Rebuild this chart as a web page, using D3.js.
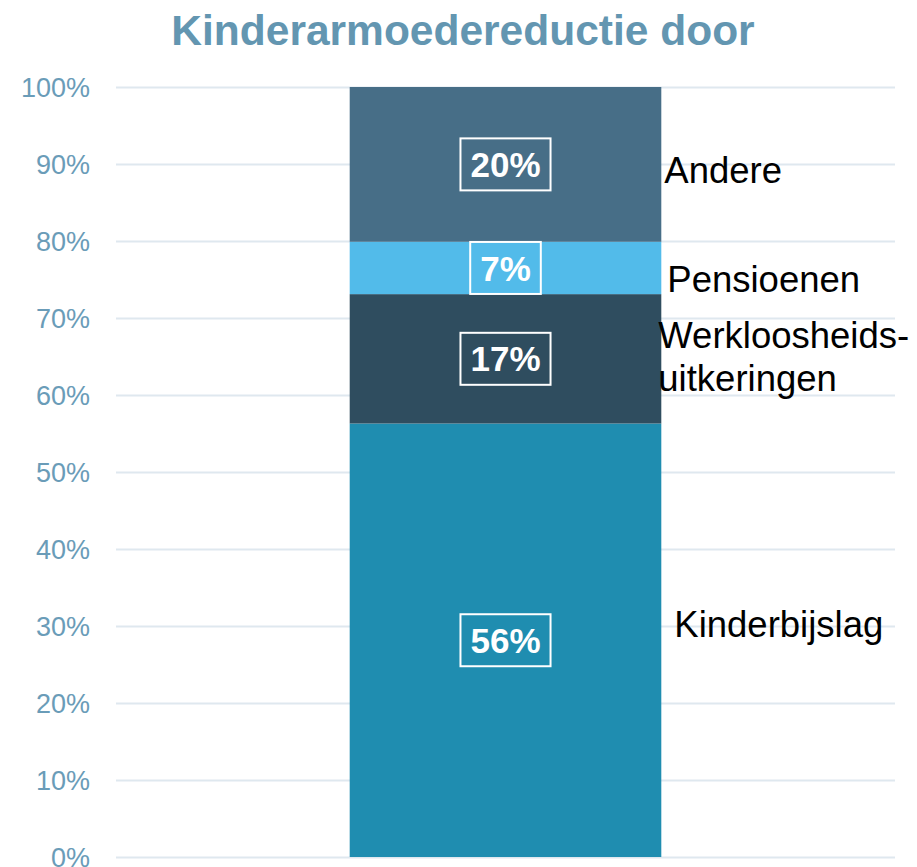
<!DOCTYPE html>
<html>
<head>
<meta charset="utf-8">
<style>
    body { margin: 0; background: #fff; }
    svg { display: block; font-family: Arial, "Liberation Sans", sans-serif; }
    .axis .domain { display: none; }
    .axis line { stroke: #dfe8ef; stroke-width: 2; }
    .axis text { fill: #6a9cb8; font-size: 27px; }
</style>
</head>
<body>
<svg width="917" height="867"></svg>
<script src="https://d3js.org/d3.v7.min.js"></script>
<script>

    // stacked shares, bottom to top
    var categories = ["Kinderbijslag", "Werkloosheids-uitkeringen", "Pensioenen", "Andere"];
    var labelLines = [["Kinderbijslag"], ["Werkloosheids-", "uitkeringen"], ["Pensioenen"], ["Andere"]];
    var values = [56.3, 16.8, 6.8, 20.1];
    var yTicks = [0, 10, 20, 30, 40, 50, 60, 70, 80, 90, 100];
    var title = "Kinderarmoedereductie door";

    var colors = ["#1f8db0", "#2f4d5f", "#52bbea", "#476e87"];
    // nudges for the side labels (x offset from bar, baseline offset from segment middle)
    var labelDx = [13, -3, 6, 3];
    var labelDy = [-3, -11, 24, 19];

    var svg = d3.select("svg"),
        margin = { top: 87, right: 22, bottom: 10, left: 116 },
        width = +svg.attr("width") - margin.left - margin.right,
        height = +svg.attr("height") - margin.top - margin.bottom;

    var x = d3.scaleBand()
        .domain(["all"])
        .range([0, width])
        .paddingOuter(0.75);

    var y = d3.scaleLinear()
        .domain([0, 100])
        .range([height, 0]);

    var g = svg.append("g")
        .attr("transform", "translate(" + margin.left + "," + margin.top + ")");

    g.append("g")
        .attr("class", "axis axis--y")
        .call(d3.axisLeft(y)
            .tickValues(yTicks)
            .tickSize(-width)
            .tickPadding(26)
            .tickFormat(function (d) { return d + "%"; }))
        .selectAll("text")
        .attr("dy", "0.35em");

    // stack the segments
    var stack = [];
    var acc = 0;
    values.forEach(function (v, i) {
        stack.push({ name: categories[i], lines: labelLines[i], value: v, y0: acc, y1: acc + v, i: i });
        acc += v;
    });

    g.selectAll("rect.seg")
        .data(stack)
        .enter()
        .append("rect")
        .attr("class", "seg")
        .attr("x", x("all"))
        .attr("width", x.bandwidth())
        .attr("y", function (d) { return y(d.y1); })
        .attr("height", function (d) { return y(d.y0) - y(d.y1); })
        .attr("fill", function (d) { return colors[d.i]; });

    // boxed value labels
    var boxes = g.selectAll("g.vlabel")
        .data(stack)
        .enter()
        .append("g")
        .attr("class", "vlabel")
        .attr("transform", function (d) {
            return "translate(" + (x("all") + x.bandwidth() / 2) + "," + y((d.y0 + d.y1) / 2) + ")";
        });

    boxes.append("text")
        .attr("text-anchor", "middle")
        .attr("dy", "0.36em")
        .attr("fill", "#fff")
        .attr("font-weight", "bold")
        .attr("font-size", "35px")
        .text(function (d) { return Math.round(d.value) + "%"; });

    boxes.each(function () {
        var b = d3.select(this).select("text").node().getBBox();
        d3.select(this).insert("rect", "text")
            .attr("x", b.x - 10)
            .attr("y", -26)
            .attr("width", b.width + 20)
            .attr("height", 52)
            .attr("fill", "none")
            .attr("stroke", "#fff")
            .attr("stroke-width", 2);
    });

    // category names to the right of the bar
    var names = g.selectAll("text.cat")
        .data(stack)
        .enter()
        .append("text")
        .attr("class", "cat")
        .attr("font-size", "36.5px")
        .attr("fill", "#000")
        .attr("transform", function (d) {
            var yy = y((d.y0 + d.y1) / 2) + labelDy[d.i];
            return "translate(" + (x("all") + x.bandwidth() + labelDx[d.i]) + "," + yy + ")";
        });

    names.selectAll("tspan")
        .data(function (d) { return d.lines; })
        .enter()
        .append("tspan")
        .attr("x", 0)
        .attr("dy", function (d, i) { return i === 0 ? 0 : 43; })
        .text(function (d) { return d; });

    svg.append("text")
        .attr("x", 463)
        .attr("y", 45)
        .attr("text-anchor", "middle")
        .attr("font-size", "42.5px")
        .attr("font-weight", "bold")
        .attr("fill", "#6396b1")
        .text(title);

</script>
</body>
</html>
